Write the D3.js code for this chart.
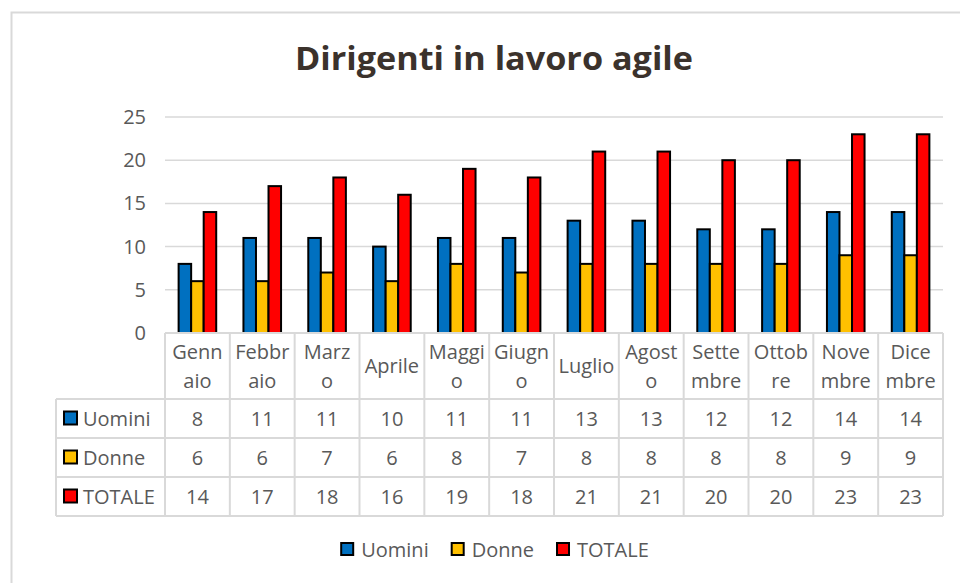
<!DOCTYPE html>
<html>
<head>
<meta charset="utf-8">
<script src="https://cdn.jsdelivr.net/npm/d3@7"></script>
<style>
  body { margin: 0; background: #fff; }
  svg text { font-family: "Open Sans", sans-serif; }
</style>
</head>
<body>
<div id="chart"></div>
<script>
const months = ["Gennaio", "Febbraio", "Marzo", "Aprile", "Maggio", "Giugno",
  "Luglio", "Agosto", "Settembre", "Ottobre", "Novembre", "Dicembre"];
// how Excel wrapped the names inside the narrow table cells
const monthLines = [["Genn", "aio"], ["Febbr", "aio"], ["Marz", "o"], ["Aprile"],
  ["Maggi", "o"], ["Giugn", "o"], ["Luglio"], ["Agost", "o"], ["Sette", "mbre"],
  ["Ottob", "re"], ["Nove", "mbre"], ["Dice", "mbre"]];
const seriesNames = ["Uomini", "Donne", "TOTALE"];
const uomini = [8, 11, 11, 10, 11, 11, 13, 13, 12, 12, 14, 14];
const donne = [6, 6, 7, 6, 8, 7, 8, 8, 8, 8, 9, 9];
const totale = [14, 17, 18, 16, 19, 18, 21, 21, 20, 20, 23, 23];
const yTicks = [0, 5, 10, 15, 20, 25];

const colors = { Uomini: "#0070C0", Donne: "#FFC000", TOTALE: "#FF0000" };
const values = { Uomini: uomini, Donne: donne, TOTALE: totale };

const width = 960, height = 583;
const plotLeft = 165, plotRight = 943, plotTop = 117, plotBottom = 333;
const tableLeft = 56;
const headerH = 66, rowH = 39;
const gridColor = "#d9d9d9";
const textColor = "#595959";

const svg = d3.select("#chart").append("svg")
  .attr("width", width)
  .attr("height", height);

// chart border
svg.append("rect")
  .attr("x", 11.5).attr("y", 12.5)
  .attr("width", 970).attr("height", 590)
  .attr("fill", "#fff")
  .attr("stroke", gridColor)
  .attr("stroke-width", 2);

svg.append("text")
  .attr("x", 494).attr("y", 70)
  .attr("text-anchor", "middle")
  .attr("font-size", 33)
  .attr("font-weight", 700)
  .attr("fill", "#3b322c")
  .attr("textLength", 398)
  .attr("lengthAdjust", "spacingAndGlyphs")
  .text("Dirigenti in lavoro agile");

const x0 = d3.scaleBand()
  .domain(months)
  .range([plotLeft, plotRight])
  .paddingInner(0.42)
  .paddingOuter(0.21);

const x1 = d3.scaleBand()
  .domain(seriesNames)
  .range([0, x0.bandwidth()]);

const y = d3.scaleLinear()
  .domain([0, 25])
  .range([plotBottom, plotTop]);

// gridlines
svg.append("g")
  .selectAll("line")
  .data(yTicks)
  .join("line")
  .attr("x1", plotLeft).attr("x2", plotRight)
  .attr("y1", (d) => y(d)).attr("y2", (d) => y(d))
  .attr("stroke", gridColor)
  .attr("stroke-width", 1.5);

// y axis labels
svg.append("g")
  .selectAll("text")
  .data(yTicks)
  .join("text")
  .attr("x", 146)
  .attr("y", (d) => y(d) + 7)
  .attr("text-anchor", "end")
  .attr("font-size", 20)
  .attr("fill", textColor)
  .text((d) => d);

// bars
const groups = svg.append("g")
  .selectAll("g")
  .data(months)
  .join("g")
  .attr("transform", (d) => `translate(${x0(d)},0)`);

groups.selectAll("rect")
  .data((m, i) => seriesNames.map((s) => ({ s: s, v: values[s][i] })))
  .join("rect")
  .attr("x", (d) => x1(d.s))
  .attr("y", (d) => y(d.v))
  .attr("width", x1.bandwidth())
  .attr("height", (d) => plotBottom - y(d.v))
  .attr("fill", (d) => colors[d.s])
  .attr("stroke", "#000")
  .attr("stroke-width", 2);

// data table
const step = x0.step();
const tableTop = plotBottom;
const rowsTop = tableTop + headerH;
const tableBottom = rowsTop + rowH * seriesNames.length;
const table = svg.append("g");

// vertical lines
const vx = d3.range(months.length + 1).map((i) => plotLeft + i * step);
table.selectAll("line.v")
  .data(vx)
  .join("line")
  .attr("class", "v")
  .attr("x1", (d) => d).attr("x2", (d) => d)
  .attr("y1", tableTop).attr("y2", tableBottom)
  .attr("stroke", gridColor).attr("stroke-width", 2);

table.append("line")
  .attr("x1", tableLeft).attr("x2", tableLeft)
  .attr("y1", rowsTop).attr("y2", tableBottom)
  .attr("stroke", gridColor).attr("stroke-width", 2);

// horizontal lines
const hy = d3.range(seriesNames.length + 1).map((i) => rowsTop + i * rowH);
table.selectAll("line.h")
  .data(hy)
  .join("line")
  .attr("class", "h")
  .attr("x1", tableLeft).attr("x2", plotRight)
  .attr("y1", (d) => d).attr("y2", (d) => d)
  .attr("stroke", gridColor).attr("stroke-width", 2);

table.append("line")
  .attr("x1", plotLeft).attr("x2", plotRight)
  .attr("y1", tableTop).attr("y2", tableTop)
  .attr("stroke", gridColor).attr("stroke-width", 2);

// month headers
const headerMid = tableTop + headerH / 2 + 7;
table.selectAll("text.month")
  .data(months)
  .join("text")
  .attr("class", "month")
  .attr("text-anchor", "middle")
  .attr("font-size", 20)
  .attr("fill", textColor)
  .each(function (m, i) {
    const lines = monthLines[i];
    const cx = x0(m) + x0.bandwidth() / 2;
    lines.forEach((l, j) => {
      d3.select(this).append("tspan")
        .attr("x", cx)
        .attr("y", headerMid + (j - (lines.length - 1) / 2) * 29)
        .text(l);
    });
  });

// row headers + values
seriesNames.forEach((s, r) => {
  const cy = rowsTop + r * rowH + rowH / 2;
  table.append("rect")
    .attr("x", 64).attr("y", cy - 7)
    .attr("width", 13).attr("height", 13)
    .attr("fill", colors[s])
    .attr("stroke", "#000")
    .attr("stroke-width", 2);
  table.append("text")
    .attr("x", 83).attr("y", cy + 7)
    .attr("font-size", 20)
    .attr("fill", textColor)
    .text(s);
  table.selectAll("text.val" + r)
    .data(values[s])
    .join("text")
    .attr("class", "val" + r)
    .attr("x", (d, i) => x0(months[i]) + x0.bandwidth() / 2)
    .attr("y", cy + 7)
    .attr("text-anchor", "middle")
    .attr("font-size", 20)
    .attr("fill", textColor)
    .text((d) => d);
});

// legend
const legend = svg.append("g");
let lx = 0;
seriesNames.forEach((s) => {
  const item = legend.append("g").attr("transform", `translate(${lx},0)`);
  item.append("rect")
    .attr("x", 0).attr("y", -7)
    .attr("width", 12).attr("height", 12)
    .attr("fill", colors[s])
    .attr("stroke", "#000")
    .attr("stroke-width", 2);
  const t = item.append("text")
    .attr("x", 20).attr("y", 7)
    .attr("font-size", 20)
    .attr("fill", textColor)
    .text(s);
  lx += 20 + t.node().getComputedTextLength() + 23;
});
const legendW = lx - 23;
legend.attr("transform", `translate(${495 - legendW / 2},550)`);
</script>
</body>
</html>
